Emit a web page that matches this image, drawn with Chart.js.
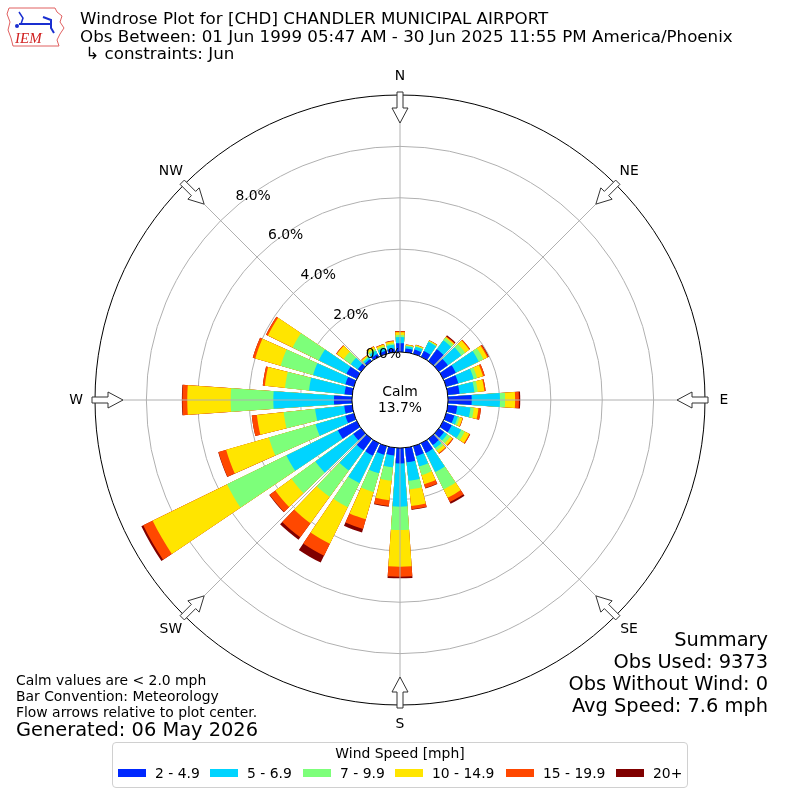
<!DOCTYPE html>
<html lang="en">
<head>
    <meta charset="UTF-8">
    <title>Windrose Plot for [CHD] CHANDLER MUNICIPAL AIRPORT</title>
    <script src="https://cdn.jsdelivr.net/npm/chart.js"></script>
    <style>
        body, html {
            margin: 0;
            padding: 0;
            background: #fff;
            font-family: "DejaVu Sans", sans-serif;
        }
        .page {
            position: relative;
            width: 800px;
            height: 800px;
        }
        canvas {
            position: absolute;
            left: 0;
            top: 0;
        }
        .logo {
            position: absolute;
            left: 5px;
            top: 4px;
        }
        .title {
            position: absolute;
            left: 80px;
            top: 10px;
            font-size: 16.7px;
            line-height: 17.6px;
            color: #000;
            white-space: pre;
        }
        .notes {
            position: absolute;
            left: 16px;
            top: 672px;
            font-size: 13.9px;
            line-height: 16px;
        }
        .notes .gen {
            font-size: 19.4px;
            line-height: 20px;
        }
        .summary {
            position: absolute;
            right: 32px;
            top: 629px;
            text-align: right;
            font-size: 19.4px;
            line-height: 22px;
        }
        .legend {
            position: absolute;
            left: 112px;
            top: 742px;
            width: 574px;
            height: 44px;
            border: 1px solid #d0d0d0;
            border-radius: 4px;
            font-size: 13.9px;
        }
        .legend .ltitle {
            position: absolute;
            top: 2px;
            width: 100%;
            text-align: center;
        }
        .legend .item {
            position: absolute;
            top: 22px;
            white-space: nowrap;
        }
        .legend .sw {
            display: inline-block;
            width: 28px;
            height: 8px;
            margin-right: 9px;
            vertical-align: 1px;
        }
    </style>
</head>
<body>
<div class="page">
    <canvas id="rose" width="800" height="800"></canvas>

    <svg class="logo" width="62" height="46" viewBox="0 0 62 46">
        <path d="M4 4 L50 4 L52 8 L57 12 L55 18 L59 24 L55 30 L52 36 L54 42 L8 42 L6 34 L3 26 L5 18 L2 10 Z"
              fill="none" stroke="#e06060" stroke-width="1"/>
        <line x1="14" y1="20" x2="46" y2="20" stroke="#1a2fd0" stroke-width="2"/>
        <path d="M14 8 L18 14 L16 20" fill="none" stroke="#1a2fd0" stroke-width="1.5"/>
        <path d="M38 13 L46 16 L46 24 L49 29" fill="none" stroke="#1a2fd0" stroke-width="2"/>
        <circle cx="12" cy="22" r="2" fill="#1a2fd0"/>
        <text x="10" y="39" font-family="Liberation Serif" font-style="italic" font-size="15" fill="#d02020">IEM</text>
    </svg>

    <div class="title">Windrose Plot for [CHD] CHANDLER MUNICIPAL AIRPORT
Obs Between: 01 Jun 1999 05:47 AM - 30 Jun 2025 11:55 PM America/Phoenix
 ↳ constraints: Jun</div>

    <div class="notes">
        <div>Calm values are &lt; 2.0 mph</div>
        <div>Bar Convention: Meteorology</div>
        <div>Flow arrows relative to plot center.</div>
        <div class="gen">Generated: 06 May 2026</div>
    </div>

    <div class="summary">
        <div>Summary</div>
        <div>Obs Used: 9373</div>
        <div>Obs Without Wind: 0</div>
        <div>Avg Speed: 7.6 mph</div>
    </div>

    <div class="legend" id="legend">
        <div class="ltitle">Wind Speed [mph]</div>
    </div>
</div>

<script>
    // direction bins (degrees, meteorological), 10 degree bins
    const directions = [0, 10, 20, 30, 40, 50, 60, 70, 80, 90, 100, 110, 120, 130, 140, 150, 160, 170,
        180, 190, 200, 210, 220, 230, 240, 250, 260, 270, 280, 290, 300, 310, 320, 330, 340, 350];

    // percent of observations in each speed bin, per direction
    const speed2to5 = [0.34, 0.15, 0.17, 0.25, 0.57, 0.43, 0.55, 0.49, 0.46, 0.92, 0.37, 0.33, 0.37, 0.25, 0.30, 0.42, 0.40, 0.57,
        0.60, 0.30, 0.35, 0.54, 0.55, 0.38, 0.82, 0.34, 0.31, 0.70, 0.30, 0.34, 0.45, 0.16, 0.10, 0.12, 0.12, 0.15];
    const speed5to7 = [0.24, 0.08, 0.12, 0.40, 0.43, 0.65, 0.99, 0.62, 0.58, 1.10, 0.52, 0.14, 0.41, 0.15, 0.15, 0.83, 0.42, 0.72,
        1.68, 0.47, 0.75, 1.19, 0.97, 1.82, 2.23, 1.21, 1.14, 2.36, 1.39, 1.31, 1.20, 0.34, 0.08, 0.14, 0.12, 0.14];
    const speed7to10 = [0.08, 0.03, 0.03, 0.03, 0.12, 0.18, 0.20, 0.14, 0.13, 0.20, 0.13, 0.08, 0.15, 0.15, 0.11, 0.75, 0.35, 0.34,
        0.91, 0.52, 0.76, 1.04, 1.27, 1.15, 2.57, 1.89, 1.23, 1.66, 0.94, 1.31, 1.13, 0.34, 0.05, 0.08, 0.06, 0.06];
    const speed10to15 = [0.11, 0.03, 0.04, 0.03, 0.05, 0.20, 0.17, 0.24, 0.26, 0.39, 0.18, 0.11, 0.20, 0.11, 0.12, 0.36, 0.37, 0.65,
        1.43, 0.76, 1.10, 1.58, 1.27, 0.78, 3.22, 1.73, 1.05, 1.69, 0.79, 1.03, 1.07, 0.33, 0.05, 0.10, 0.08, 0.08];
    const speed15to20 = [0.04, 0.01, 0.01, 0.01, 0.03, 0.04, 0.05, 0.07, 0.05, 0.15, 0.10, 0.02, 0.04, 0.04, 0.04, 0.19, 0.15, 0.13,
        0.39, 0.23, 0.39, 0.52, 0.67, 0.27, 0.41, 0.31, 0.20, 0.19, 0.08, 0.10, 0.08, 0.03, 0.02, 0.02, 0.02, 0.02];
    const speed20plus = [0.01, 0, 0, 0, 0.04, 0, 0.02, 0, 0, 0.05, 0, 0, 0, 0, 0, 0.07, 0.02, 0.02,
        0.06, 0.03, 0.14, 0.30, 0.12, 0.02, 0.08, 0.01, 0, 0.02, 0, 0, 0, 0, 0, 0, 0, 0.01];

    const speedLabels = ['2 - 4.9', '5 - 6.9', '7 - 9.9', '10 - 14.9', '15 - 19.9', '20+'];
    const speedColors = ['#0028ff', '#00d4ff', '#7dff7a', '#ffe500', '#ff4800', '#800000'];
    const radialTicks = [0, 2, 4, 6, 8, 10];
    const compassLabels = ['N', 'NE', 'E', 'SE', 'S', 'SW', 'W', 'NW'];
    const calmPercent = 13.7;

    const seriesList = [speed2to5, speed5to7, speed7to10, speed10to15, speed15to20, speed20plus];
    const barWidth = 8;   // degrees of each bar
    const gapWidth = 2;   // degrees between bars

    // polar area draws each dataset from the centre, so stack by drawing running totals,
    // smallest total on top (dataset 0 is painted last)
    let running = directions.map(() => 0);
    const datasets = seriesList.map((series, k) => {
        running = running.map((v, i) => v + series[i]);
        const data = [], colors = [], angles = [];
        running.forEach(v => {
            data.push(v, 0);
            colors.push(speedColors[k], 'rgba(0,0,0,0)');
            angles.push(barWidth, gapWidth);
        });
        return {
            label: speedLabels[k],
            data: data,
            backgroundColor: colors,
            angle: angles,
            borderWidth: 0
        };
    });
    const labels = [];
    directions.forEach(d => labels.push(d + '°', ''));

    // html legend
    const legendEl = document.getElementById('legend');
    const legendX = [5, 97, 190, 282, 393, 503];
    speedLabels.forEach((lab, k) => {
        const item = document.createElement('div');
        item.className = 'item';
        item.style.left = legendX[k] + 'px';
        item.innerHTML = '<span class="sw" style="background:' + speedColors[k] + '"></span>' + lab;
        legendEl.appendChild(item);
    });

    function drawArrow(ctx, cx, cy, bearing, R) {
        const a = bearing * Math.PI / 180;
        const ux = Math.sin(a), uy = -Math.cos(a);
        const px = Math.cos(a), py = Math.sin(a);
        const pts = [[R + 3, -3], [R - 13, -3], [R - 13, -8], [R - 28, 0], [R - 13, 8], [R - 13, 3], [R + 3, 3]];
        ctx.beginPath();
        pts.forEach((p, i) => {
            const x = cx + ux * p[0] + px * p[1];
            const y = cy + uy * p[0] + py * p[1];
            if (i === 0) ctx.moveTo(x, y); else ctx.lineTo(x, y);
        });
        ctx.closePath();
        ctx.fillStyle = '#fff';
        ctx.fill();
        ctx.strokeStyle = '#333';
        ctx.lineWidth = 1;
        ctx.stroke();
    }

    const roseDecor = {
        id: 'roseDecor',
        afterDraw(chart) {
            const ctx = chart.ctx;
            const s = chart.scales.r;
            const cx = s.xCenter, cy = s.yCenter;
            const rOuter = s.getDistanceFromCenterForValue(radialTicks[radialTicks.length - 1]);
            const rCalm = s.getDistanceFromCenterForValue(0);
            ctx.save();

            // spokes every 45 degrees
            ctx.strokeStyle = '#b0b0b0';
            ctx.lineWidth = 1;
            for (let b = 0; b < 360; b += 45) {
                const a = b * Math.PI / 180;
                ctx.beginPath();
                ctx.moveTo(cx, cy);
                ctx.lineTo(cx + Math.sin(a) * rOuter, cy - Math.cos(a) * rOuter);
                ctx.stroke();
            }

            // calm circle
            ctx.beginPath();
            ctx.arc(cx, cy, rCalm, 0, Math.PI * 2);
            ctx.fillStyle = '#fff';
            ctx.fill();
            ctx.strokeStyle = '#000';
            ctx.stroke();

            ctx.fillStyle = '#000';
            ctx.font = '13.9px "DejaVu Sans"';
            ctx.textAlign = 'center';
            ctx.textBaseline = 'middle';
            ctx.fillText('Calm', cx, cy - 8);
            ctx.fillText(calmPercent.toFixed(1) + '%', cx, cy + 8);

            // radial tick labels, along bearing ~320.6 with a small offset
            const la = 320.6 * Math.PI / 180;
            radialTicks.slice(0, -1).forEach(v => {
                const r = s.getDistanceFromCenterForValue(v);
                ctx.fillText(v.toFixed(1) + '%', cx + Math.sin(la) * r + 14, cy - Math.cos(la) * r - 8);
            });

            // compass labels and flow arrows
            compassLabels.forEach((lab, i) => {
                const b = i * 45;
                const a = b * Math.PI / 180;
                drawArrow(ctx, cx, cy, b, rOuter);
                ctx.fillStyle = '#000';
                ctx.fillText(lab, cx + Math.sin(a) * (rOuter + 19), cy - Math.cos(a) * (rOuter + 19));
            });
            ctx.restore();
        }
    };

    const ctx = document.getElementById('rose').getContext('2d');
    const rose = new Chart(ctx, {
        type: 'polarArea',
        data: {
            labels: labels,
            datasets: datasets
        },
        options: {
            responsive: false,
            animation: false,
            layout: {
                padding: 95
            },
            plugins: {
                legend: { display: false },
                tooltip: { enabled: false }
            },
            scales: {
                r: {
                    min: -1.87,
                    max: 10,
                    startAngle: -barWidth / 2,
                    z: 1,
                    afterBuildTicks: (scale) => {
                        scale.ticks = radialTicks.map(v => ({ value: v }));
                    },
                    ticks: { display: false },
                    grid: {
                        circular: true,
                        lineWidth: 1,
                        color: (c) => (c.tick && c.tick.value === 10) ? '#000000' : '#b0b0b0'
                    },
                    angleLines: { display: false },
                    pointLabels: { display: false }
                }
            }
        },
        plugins: [roseDecor]
    });
</script>
</body>
</html>
